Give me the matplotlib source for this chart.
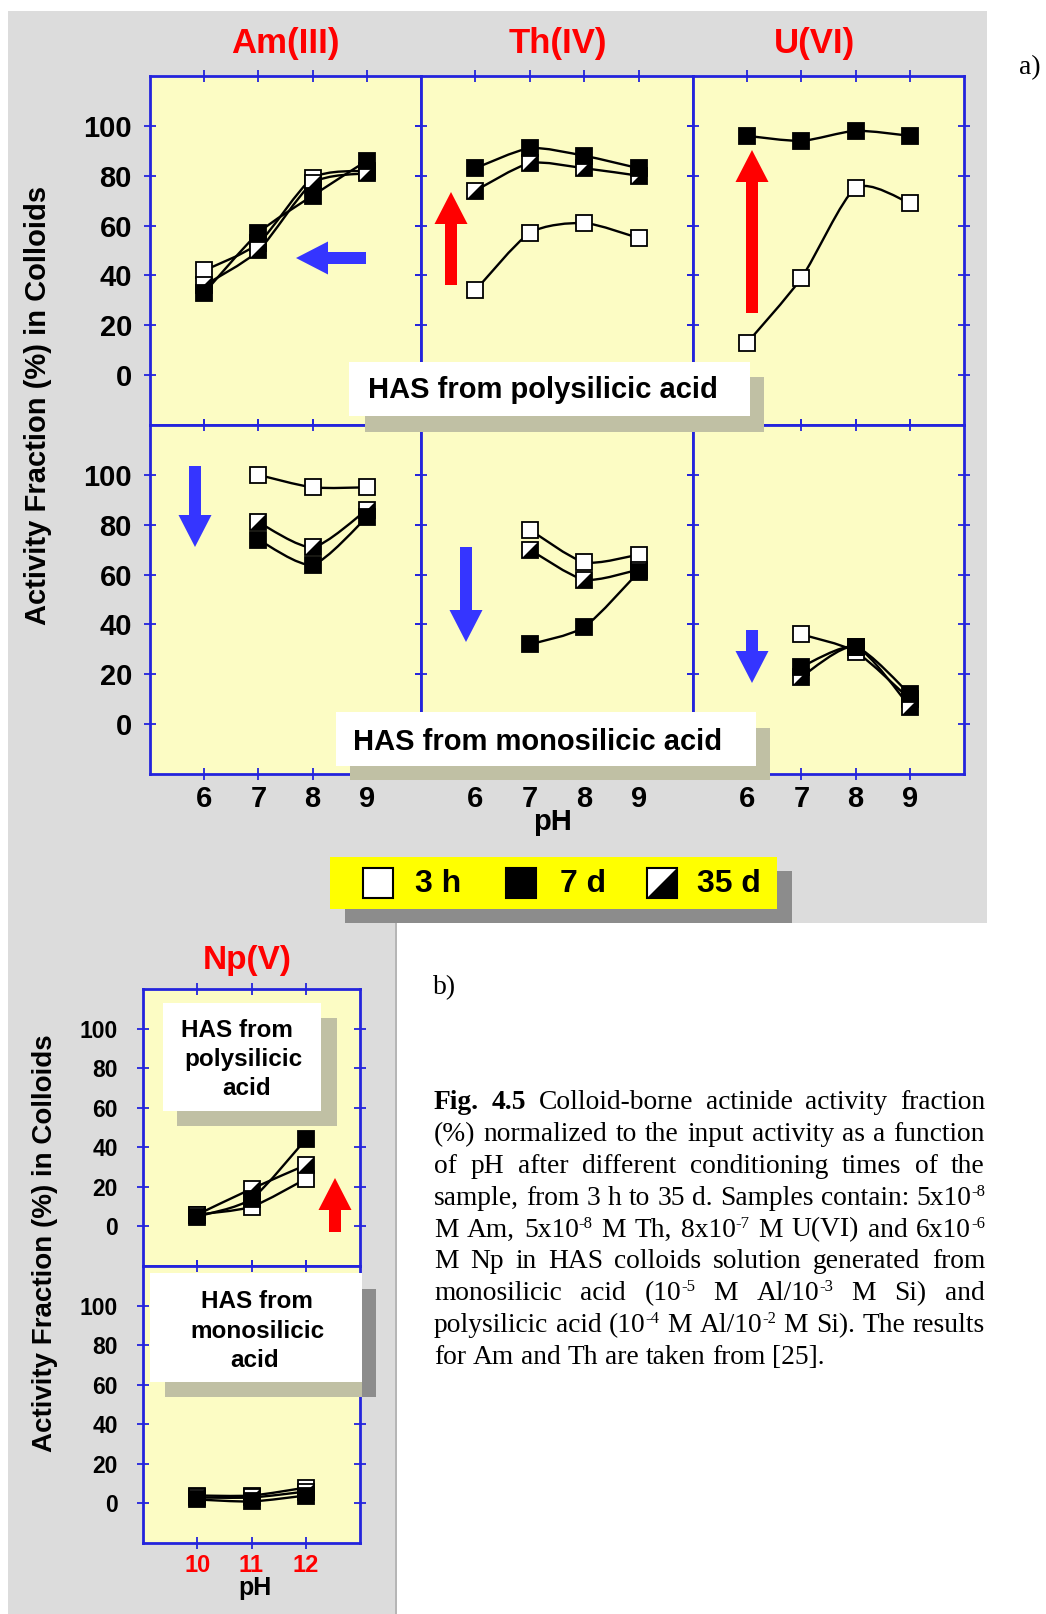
import numpy as np
import matplotlib
matplotlib.use("Agg")
import matplotlib.pyplot as plt
from matplotlib.path import Path
from matplotlib.patches import PathPatch, Rectangle, Polygon, FancyArrow

W, H = 1046, 1614

plt.rcParams['font.family'] = ['Liberation Sans', 'DejaVu Sans']
plt.rcParams['font.weight'] = 'bold'

# ---- data ----
ph = [6, 7, 8, 9]
ph_lo = [7, 8, 9]
ph_np = [10, 11, 12]

# HAS from polysilicic acid
am_poly_3h = [42, 53, 79, 82]
am_poly_7d = [33, 57, 72, 86]
am_poly_35d = [36, 50, 77, 81]
th_poly_3h = [34, 57, 61, 55]
th_poly_7d = [83, 91, 88, 83]
th_poly_35d = [74, 85, 83, 80]
u_poly_3h = [13, 39, 75, 69]
u_poly_7d = [96, 94, 98, 96]

# HAS from monosilicic acid
am_mono_3h = [100, 95, 95]
am_mono_7d = [74, 64, 83]
am_mono_35d = [81, 71, 86]
th_mono_3h = [78, 65, 68]
th_mono_7d = [32, 39, 61]
th_mono_35d = [70, 58, 62]
u_mono_3h = [36, 29, 10]
u_mono_7d = [23, 31, 12]
u_mono_35d = [19, 31, 7]

# Np(V)
np_poly_3h = [6, 10, 24]
np_poly_7d = [5, 14, 44]
np_poly_35d = [6, 19, 31]
np_mono_3h = [4, 4, 8]
np_mono_7d = [2, 1, 4]
np_mono_35d = [3, 3, 6]

titles = ['Am(III)', 'Th(IV)', 'U(VI)']
legend_labels = ['3 h', '7 d', '35 d']

BLUE = '#2424dc'
YEL = '#fcfcc4'
GRAY = '#dcdcdc'
MS = 11.5
TRI = Path([(-1, -1), (1, -1), (1, 1), (-1, -1)],
           [Path.MOVETO, Path.LINETO, Path.LINETO, Path.CLOSEPOLY])


def smooth_path(xs, ys):
    # Catmull-Rom style bezier through the measured points
    pts = np.column_stack([xs, ys]).astype(float)
    n = len(pts)
    verts, codes = [pts[0]], [Path.MOVETO]
    for i in range(n - 1):
        p0, p1 = pts[max(i - 1, 0)], pts[i]
        p2, p3 = pts[i + 1], pts[min(i + 2, n - 1)]
        verts += [p1 + (p2 - p0) / 8, p2 - (p3 - p1) / 8, p2]
        codes += [Path.CURVE4] * 3
    return Path(verts, codes)


def draw_series(ax, x, y, kind):
    ax.add_patch(PathPatch(smooth_path(x, y), fill=False, ec='black', lw=1.7, zorder=3))
    face = 'black' if kind == '7d' else 'white'
    ax.plot(x, y, ls='none', marker='s', ms=MS, mfc=face, mec='black', mew=1.3, zorder=4)
    if kind == '35d':
        ax.plot(x, y, ls='none', marker=TRI, ms=MS, mfc='black', mec='black', mew=0, zorder=5)


def style_axes(ax, xt, xl, lsize, ypad, xpad):
    ax.set_facecolor(YEL)
    for s in ax.spines.values():
        s.set_color(BLUE)
        s.set_linewidth(2)
    ax.set_xlim(*xl)
    ax.set_ylim(-20, 120)
    ax.set_xticks(xt)
    ax.set_yticks(range(0, 101, 20))
    ax.tick_params(axis='both', direction='inout', length=8, width=1.3, color=BLUE,
                   top=True, right=True, labelsize=lsize)
    ax.tick_params(axis='y', pad=ypad)
    ax.tick_params(axis='x', pad=xpad)


def rect(x0, y0, x1, y1):
    return [x0 / W, 1 - y1 / H, (x1 - x0) / W, (y1 - y0) / H]


fig = plt.figure(figsize=(W / 100, H / 100), dpi=100)
bg = fig.add_axes([0, 0, 1, 1], zorder=-5)
bg.set_xlim(0, W); bg.set_ylim(H, 0); bg.axis('off')
fg = fig.add_axes([0, 0, 1, 1], zorder=10)
fg.set_xlim(0, W); fg.set_ylim(H, 0); fg.axis('off')

# grey backgrounds
bg.add_patch(Rectangle((8, 11), 979, 912, color=GRAY, lw=0))
bg.add_patch(Rectangle((8, 923), 387, 691, color=GRAY, lw=0))
bg.plot([395.5, 395.5], [923, H], color='#a8a8a8', lw=1.2)

# ---- panel a) ----
top_series = [
    [(am_poly_3h, '3h'), (am_poly_35d, '35d'), (am_poly_7d, '7d')],
    [(th_poly_3h, '3h'), (th_poly_35d, '35d'), (th_poly_7d, '7d')],
    [(u_poly_3h, '3h'), (u_poly_7d, '7d')],
]
bot_series = [
    [(am_mono_3h, '3h'), (am_mono_35d, '35d'), (am_mono_7d, '7d')],
    [(th_mono_3h, '3h'), (th_mono_35d, '35d'), (th_mono_7d, '7d')],
    [(u_mono_3h, '3h'), (u_mono_35d, '35d'), (u_mono_7d, '7d')],
]
cols = [150, 421, 693, 964]
rows = [76, 425, 774]
for r, (series, xs) in enumerate([(top_series, ph), (bot_series, ph_lo)]):
    for c in range(3):
        ax = fig.add_axes(rect(cols[c], rows[r], cols[c + 1], rows[r + 1]))
        style_axes(ax, ph, (5, 10), 21, 9, 4)
        ax.tick_params(labelleft=(c == 0), labelbottom=(r == 1))
        for y, kind in series[c]:
            draw_series(ax, xs, y, kind)

for t, x in zip(titles, [285, 558, 815]):
    fg.text(x, 43, t, color='red', fontsize=25, ha='center', va='center')
fg.text(38, 405, 'Activity Fraction (%) in Colloids', fontsize=21, rotation=90,
        ha='center', va='center')
fg.text(553, 822, 'pH', fontsize=21, ha='center', va='center')

# labelled boxes with shadows
fg.add_patch(Rectangle((365, 377), 399, 55, color='#c0c0a4', lw=0))
fg.add_patch(Rectangle((349, 362), 401, 54, color='white', lw=0))
fg.text(368, 398, 'HAS from polysilicic acid', fontsize=21, ha='left', va='baseline')
fg.add_patch(Rectangle((350, 728), 420, 52, color='#c0c0a4', lw=0))
fg.add_patch(Rectangle((336, 712), 420, 54, color='white', lw=0))
fg.text(353, 750, 'HAS from monosilicic acid', fontsize=21, ha='left', va='baseline')

# arrows
arrows = [
    (366, 258, 296, 258, '#3535ff'),
    (195, 466, 195, 547, '#3535ff'),
    (466, 547, 466, 642, '#3535ff'),
    (752, 630, 752, 683, '#3535ff'),
    (451, 285, 451, 192, 'red'),
    (752, 313, 752, 150, 'red'),
    (335, 1232, 335, 1178, 'red'),
]
for x0, y0, x1, y1, col in arrows:
    fg.add_patch(FancyArrow(x0, y0, x1 - x0, y1 - y0, width=12, head_width=33,
                            head_length=32, length_includes_head=True, color=col, lw=0))

# legend
fg.add_patch(Rectangle((345, 871), 447, 52, color='#8c8c8c', lw=0))
fg.add_patch(Rectangle((330, 857), 447, 52, color='#ffff00', lw=0))
for (mx, tx), lab in zip([(378, 415), (521, 560), (662, 697)], legend_labels):
    s = 30
    face = 'black' if lab == '7 d' else 'white'
    fg.add_patch(Rectangle((mx - s / 2, 883 - s / 2), s, s, fc=face, ec='black', lw=1.5))
    if lab == '35 d':
        fg.add_patch(Polygon([(mx - s / 2, 883 + s / 2), (mx + s / 2, 883 + s / 2),
                              (mx + s / 2, 883 - s / 2)], closed=True, fc='black', lw=0))
    fg.text(tx, 884, lab, fontsize=23, ha='left', va='center')

fig.text(1019 / W, 1 - 68 / H, 'a)', family='Liberation Serif', weight='normal',
         fontsize=20, ha='left', va='center')

# ---- panel b) Np(V) ----
np_top = [(np_poly_3h, '3h'), (np_poly_35d, '35d'), (np_poly_7d, '7d')]
np_bot = [(np_mono_3h, '3h'), (np_mono_35d, '35d'), (np_mono_7d, '7d')]
np_rows = [989, 1266, 1543]
for r, series in enumerate([np_top, np_bot]):
    ax = fig.add_axes(rect(143, np_rows[r], 360, np_rows[r + 1]))
    style_axes(ax, ph_np, (9, 13), 16.5, 14, 4)
    ax.tick_params(axis='x', labelcolor='red', labelsize=17)
    ax.tick_params(labelbottom=(r == 1))
    for y, kind in series:
        draw_series(ax, ph_np, y, kind)

fg.text(247, 960, 'Np(V)', color='red', fontsize=24, ha='center', va='center')
fg.text(45, 1243, 'Activity Fraction (%) in Colloids', fontsize=20, rotation=90,
        ha='center', va='center')
fg.text(255, 1588, 'pH', fontsize=18, ha='center', va='center')

fg.add_patch(Rectangle((177, 1018), 160, 108, color='#c0c0a4', lw=0))
fg.add_patch(Rectangle((163, 1003), 158, 108, color='white', lw=0))
for txt, x, y in [('HAS from', 237, 1037), ('polysilicic', 243, 1066), ('acid', 247, 1095)]:
    fg.text(x, y, txt, fontsize=17.5, ha='center', va='baseline')
fg.add_patch(Rectangle((165, 1382), 197, 15, color='#c0c0a4', lw=0))
fg.add_patch(Rectangle((362, 1289), 14, 108, color='#8c8c8c', lw=0))
fg.add_patch(Rectangle((150, 1273), 212, 109, color='white', lw=0))
for txt, x, y in [('HAS from', 257, 1308), ('monosilicic', 257, 1338), ('acid', 255, 1367)]:
    fg.text(x, y, txt, fontsize=17.5, ha='center', va='baseline')

fig.text(433 / W, 1 - 988 / H, 'b)', family='Liberation Serif', weight='normal',
         fontsize=20, ha='left', va='center')

# ---- caption (justified) ----
caption = [
    "*Fig. *4.5 Colloid-borne actinide activity fraction",
    "(%) normalized to the input activity as a function",
    "of pH after different conditioning times of the",
    "sample, from 3 h to 35 d. Samples contain: 5x10^-8",
    "M Am, 5x10^-8 M Th, 8x10^-7 M U(VI) and 6x10^-6",
    "M Np in HAS colloids solution generated from",
    "monosilicic acid (10^-5 M Al/10^-3 M Si) and",
    "polysilicic acid (10^-4 M Al/10^-2 M Si). The results",
    "for Am and Th are taken from [25].",
]
CAP_L, CAP_R, CAP_Y0, CAP_DY = 434, 985, 1109, 31.9
CFS, SFS = 19.8, 12
renderer = fig.canvas.get_renderer()


def make_word(word):
    weight = 'normal'
    if word.startswith('*'):
        word, weight = word[1:], 'bold'
    base, _, sup = word.partition('^')
    parts = [fg.text(0, 0, base, family='Liberation Serif', weight=weight,
                     fontsize=CFS, va='baseline')]
    if sup:
        parts.append(fg.text(0, 0, sup, family='Liberation Serif', weight='normal',
                             fontsize=SFS, va='baseline'))
    widths = [p.get_window_extent(renderer).width for p in parts]
    return parts, widths


space_w = fg.text(0, 0, 'a a', family='Liberation Serif', fontsize=CFS).get_window_extent(renderer).width \
    - fg.text(0, 0, 'aa', family='Liberation Serif', fontsize=CFS).get_window_extent(renderer).width
for t in fg.texts[-2:]:
    t.remove()

for i, line in enumerate(caption):
    words = [make_word(w) for w in line.split(' ')]
    total = sum(sum(w) for _, w in words)
    last = i == len(caption) - 1
    gap = space_w if last else (CAP_R - CAP_L - total) / (len(words) - 1)
    x = CAP_L
    yb = CAP_Y0 + i * CAP_DY
    for parts, widths in words:
        parts[0].set_position((x, yb))
        if len(parts) > 1:
            parts[1].set_position((x + widths[0], yb - 9))
        x += sum(widths) + gap

fig.savefig('out.png', dpi=100)
